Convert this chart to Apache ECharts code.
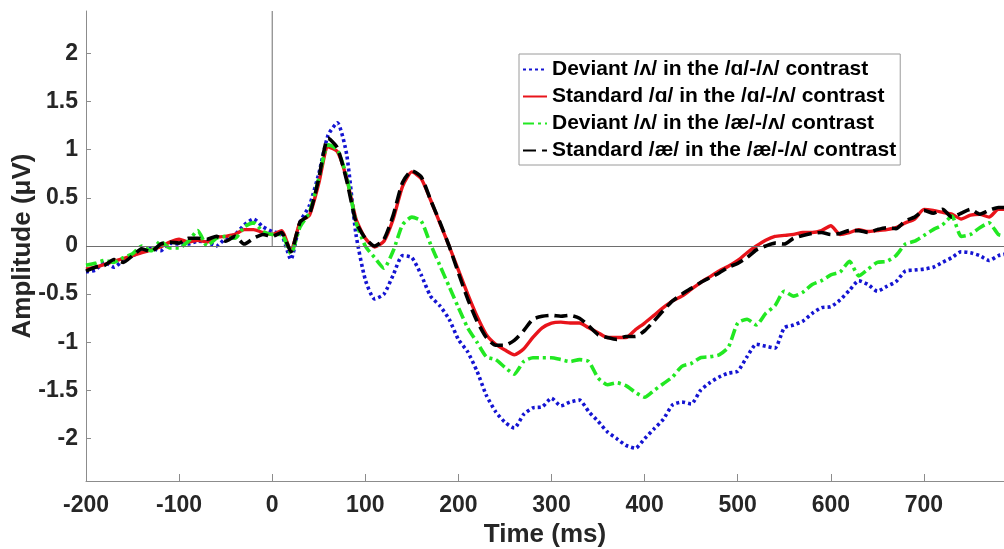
<!DOCTYPE html>
<html>
<head>
<meta charset="utf-8">
<script src="https://cdn.jsdelivr.net/npm/echarts@6/dist/echarts.min.js"></script>
<style>
html,body{margin:0;padding:0;background:#fff;}
#chart{width:1004px;height:549px;}
</style>
</head>
<body>
<div id="chart"></div>
<script>
const times = [-200,-190,-180,-170,-160,-150,-140,-130,-120,-110,-100,-90,-80,-70,-60,-50,-40,-30,-20,-10,
  0,10,20,30,40,50,60,70,80,90,100,110,120,130,140,150,160,170,180,190,
  200,210,220,230,240,250,260,270,280,290,300,310,320,330,340,350,360,370,380,390,
  400,410,420,430,440,450,460,470,480,490,500,510,520,530,540,550,560,570,580,590,
  600,610,620,630,640,650,660,670,680,690,700,710,720,730,740,750,760,770,780,790];

const devAaVals = [-0.27,-0.25,-0.17,-0.22,-0.15,-0.10,-0.06,-0.02,-0.05,0.03,0.02,0.02,0.05,0.04,0.00,0.08,0.12,0.22,0.28,0.20,
  0.15,0.12,-0.14,0.25,0.42,0.75,1.15,1.28,0.95,0.12,-0.35,-0.55,-0.50,-0.30,-0.10,-0.12,-0.30,-0.52,-0.62,-0.76,
  -0.97,-1.10,-1.30,-1.55,-1.72,-1.83,-1.89,-1.75,-1.68,-1.67,-1.58,-1.66,-1.62,-1.60,-1.72,-1.82,-1.93,-2.00,-2.07,-2.10,
  -2.00,-1.90,-1.80,-1.65,-1.62,-1.64,-1.50,-1.42,-1.36,-1.32,-1.30,-1.15,-1.02,-1.04,-1.06,-0.85,-0.82,-0.78,-0.70,-0.64,
  -0.63,-0.56,-0.46,-0.36,-0.40,-0.47,-0.42,-0.37,-0.26,-0.25,-0.24,-0.22,-0.17,-0.12,-0.06,-0.07,-0.10,-0.15,-0.10,-0.08];

const stdAVals = [-0.24,-0.22,-0.19,-0.16,-0.13,-0.10,-0.07,-0.04,-0.01,0.04,0.07,0.04,0.06,0.04,0.09,0.10,0.12,0.17,0.17,0.14,
  0.12,0.16,-0.05,0.25,0.32,0.65,1.03,0.98,0.70,0.28,0.08,-0.01,0.05,0.28,0.62,0.77,0.70,0.48,0.24,0.00,
  -0.25,-0.50,-0.73,-0.92,-1.02,-1.08,-1.13,-1.07,-0.95,-0.85,-0.80,-0.79,-0.80,-0.80,-0.85,-0.90,-0.95,-0.95,-0.95,-0.87,
  -0.80,-0.72,-0.64,-0.57,-0.52,-0.45,-0.38,-0.32,-0.26,-0.21,-0.15,-0.07,0.00,0.06,0.10,0.11,0.12,0.14,0.14,0.16,
  0.21,0.12,0.14,0.17,0.15,0.16,0.17,0.19,0.24,0.28,0.38,0.37,0.35,0.33,0.28,0.32,0.33,0.30,0.38,0.38];

const devAeVals = [-0.20,-0.18,-0.15,-0.17,-0.12,-0.08,0.00,-0.05,0.05,-0.02,-0.02,0.05,0.16,0.00,0.08,0.10,0.08,0.20,0.24,0.15,
  0.12,0.12,-0.08,0.20,0.35,0.70,1.05,1.00,0.72,0.25,0.00,-0.12,-0.23,-0.05,0.22,0.30,0.26,0.02,-0.20,-0.42,
  -0.64,-0.85,-1.00,-1.15,-1.18,-1.26,-1.33,-1.20,-1.16,-1.16,-1.16,-1.18,-1.20,-1.18,-1.20,-1.37,-1.44,-1.42,-1.45,-1.52,
  -1.57,-1.50,-1.43,-1.36,-1.25,-1.22,-1.16,-1.15,-1.13,-1.05,-0.80,-0.76,-0.82,-0.70,-0.62,-0.47,-0.52,-0.48,-0.40,-0.36,
  -0.30,-0.27,-0.16,-0.31,-0.24,-0.17,-0.16,-0.10,0.02,0.05,0.11,0.17,0.22,0.31,0.10,0.12,0.19,0.24,0.12,0.10];

const stdAeVals = [-0.26,-0.22,-0.20,-0.14,-0.17,-0.10,-0.03,-0.06,0.02,0.04,0.03,0.08,0.08,0.07,0.10,0.05,0.10,0.02,0.08,0.12,
  0.10,0.14,-0.06,0.25,0.33,0.70,1.12,1.02,0.68,0.25,0.08,0.00,0.07,0.32,0.66,0.78,0.72,0.48,0.25,0.00,
  -0.28,-0.55,-0.78,-0.95,-1.03,-1.03,-0.98,-0.88,-0.76,-0.73,-0.72,-0.73,-0.72,-0.75,-0.83,-0.92,-0.95,-0.97,-0.94,-0.94,
  -0.88,-0.78,-0.67,-0.57,-0.50,-0.44,-0.38,-0.33,-0.28,-0.22,-0.18,-0.12,-0.04,0.00,0.03,0.02,0.08,0.11,0.13,0.14,
  0.12,0.13,0.16,0.16,0.14,0.17,0.19,0.18,0.26,0.30,0.37,0.34,0.38,0.30,0.34,0.38,0.33,0.37,0.40,0.40];

const seriesNames = [
  'Deviant /ʌ/ in the /ɑ/-/ʌ/ contrast',
  'Standard /ɑ/ in the /ɑ/-/ʌ/ contrast',
  'Deviant /ʌ/ in the /æ/-/ʌ/ contrast',
  'Standard /æ/ in the /æ/-/ʌ/ contrast'
];
const xTicks = [-200,-100,0,100,200,300,400,500,600,700];
const yTicks = [-2,-1.5,-1,-0.5,0,0.5,1,1.5,2];
const xLimits = [-200, 786];
const yLimits = [-2.44, 2.44];
const onsetLine = [[0, 0], [0, 2.44]];

const FONT = "'Liberation Sans', Arial, Helvetica, sans-serif";
const pair = v => times.map((t, i) => [t, v[i]]);

const chart = echarts.init(document.getElementById('chart'), null, {renderer: 'canvas'});
chart.setOption({
  animation: false,
  backgroundColor: '#ffffff',
  textStyle: {fontFamily: FONT},
  grid: {left: 86, right: 0, top: 11, bottom: 68, outerBoundsMode: 'none', containLabel: false},
  legend: {
    left: 519, top: 54, orient: 'vertical',
    backgroundColor: '#ffffff', borderColor: '#9a9a9a', borderWidth: 1, borderRadius: 0,
    padding: [5, 4, 4, 3],
    itemWidth: 24, itemHeight: 12, itemGap: 6,
    itemStyle: {opacity: 0},
    textStyle: {fontFamily: FONT, fontSize: 21, fontWeight: 'bold', color: '#000', lineHeight: 21},
    data: seriesNames
  },
  xAxis: {
    type: 'value', min: xLimits[0], max: xLimits[1],
    name: 'Time (ms)', nameLocation: 'middle', nameGap: 41, nameMoveOverlap: false,
    nameTextStyle: {fontFamily: FONT, fontSize: 26, fontWeight: 'bold', color: '#262626'},
    axisLine: {show: true, onZero: false, lineStyle: {color: '#8c8c8c', width: 1}},
    axisTick: {show: true, inside: true, length: 7, customValues: xTicks, lineStyle: {color: '#8c8c8c'}},
    axisLabel: {customValues: xTicks, margin: 13, fontFamily: FONT, fontSize: 23, fontWeight: 'bold', color: '#262626'},
    splitLine: {show: false}
  },
  yAxis: {
    type: 'value', min: yLimits[0], max: yLimits[1],
    name: 'Amplitude (μV)', nameLocation: 'middle', nameGap: 50, nameMoveOverlap: false,
    nameTextStyle: {fontFamily: FONT, fontSize: 26, fontWeight: 'bold', color: '#262626'},
    axisLine: {show: true, onZero: false, lineStyle: {color: '#8c8c8c', width: 1}},
    axisTick: {show: true, inside: true, length: 5, customValues: yTicks, lineStyle: {color: '#8c8c8c'}},
    axisLabel: {customValues: yTicks, margin: 8, fontFamily: FONT, fontSize: 23, fontWeight: 'bold', color: '#262626'},
    splitLine: {show: false}
  },
  series: [
    {
      name: 'onset', type: 'line', data: onsetLine, showSymbol: false, symbol: 'none', silent: true,
      lineStyle: {color: '#6e6e6e', width: 1}, z: 1, legendHoverLink: false,
      markLine: {
        silent: true, symbol: 'none', animation: false,
        label: {show: false},
        lineStyle: {color: '#6e6e6e', width: 1, type: 'solid'},
        data: [{yAxis: 0}]
      }
    },
    {
      name: seriesNames[0], type: 'line', data: pair(devAaVals), showSymbol: false, symbol: 'none', smooth: 0.2,
      lineStyle: {color: '#1414d2', width: 3.6, type: [3, 3], cap: 'butt'}, itemStyle: {color: '#1414d2'}, z: 2
    },
    {
      name: seriesNames[1], type: 'line', data: pair(stdAVals), showSymbol: false, symbol: 'none', smooth: 0.2,
      lineStyle: {color: '#e8141b', width: 3.4}, itemStyle: {color: '#e8141b'}, z: 3
    },
    {
      name: seriesNames[2], type: 'line', data: pair(devAeVals), showSymbol: false, symbol: 'none', smooth: 0.2,
      lineStyle: {color: '#22e822', width: 3.6, type: [11, 4, 3, 4], cap: 'butt'}, itemStyle: {color: '#22e822'}, z: 4
    },
    {
      name: seriesNames[3], type: 'line', data: pair(stdAeVals), showSymbol: false, symbol: 'none', smooth: 0.2,
      lineStyle: {color: '#000000', width: 3.6, type: [13, 6], cap: 'butt'}, itemStyle: {color: '#000000'}, z: 5
    }
  ]
});
</script>
</body>
</html>
